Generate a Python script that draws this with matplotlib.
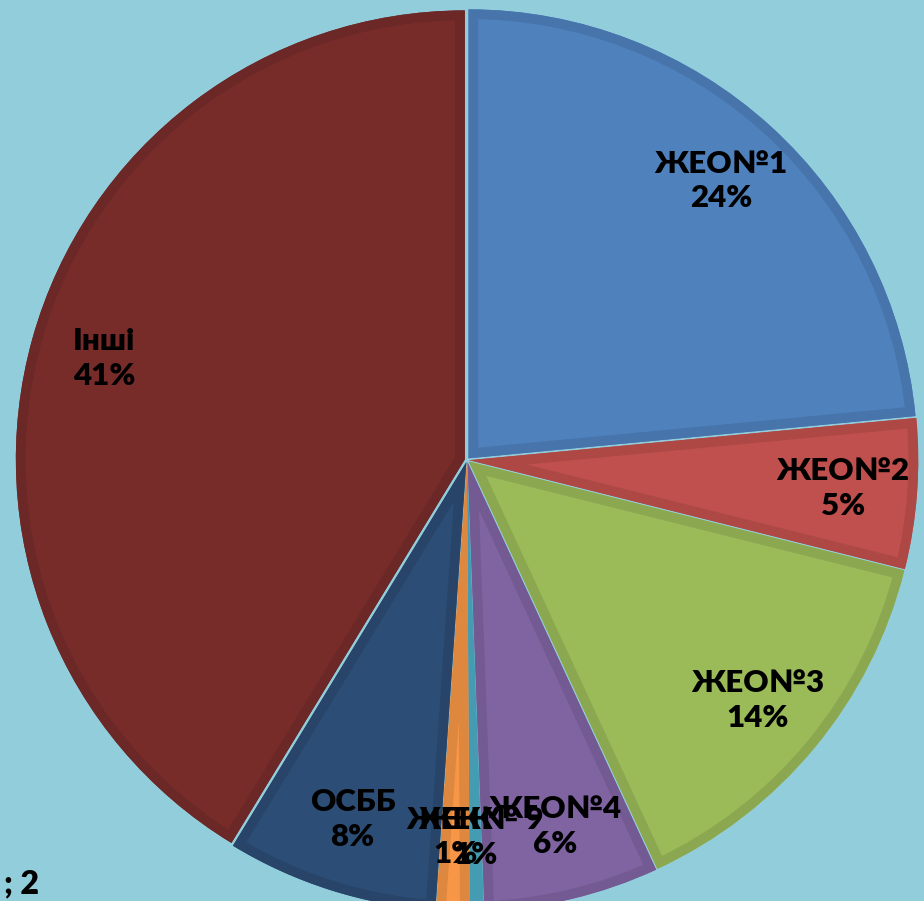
import numpy as np
import matplotlib.pyplot as plt
from matplotlib.colors import to_rgb
from matplotlib.patches import Wedge

plt.rcParams['font.family'] = ['Lato', 'DejaVu Sans']

# Shares of the pie (clockwise from 12 o'clock)
names = ['ЖЕО№1', 'ЖЕО№2', 'ЖЕО№3', 'ЖЕО№4', 'ЖЕК№ 9', 'ЖЕК', 'ОСББ', 'Інші']
values = [23.5, 5.4, 14.2, 6.3, 0.5, 1.2, 7.6, 41.3]
colors = ['#4F81BD', '#C0504D', '#9BBB59', '#8064A2', '#4BACC6', '#F79646',
          '#2C4D75', '#772C2A']
bg = '#92CDDC'

W, H = 924, 901
cx, cy, R = 467, 460, 449

fig = plt.figure(figsize=(W / 100, H / 100), dpi=100, facecolor=bg)
ax = fig.add_axes([0, 0, 1, 1])
ax.set_facecolor(bg)

edges = [tuple(c * 0.9 for c in to_rgb(col)) for col in colors]
wedges, _ = ax.pie(values, colors=colors, startangle=90, counterclock=False,
                   radius=1, explode=[0.005] * len(values),
                   wedgeprops=dict(linewidth=0))
# border drawn only on the inside of each wedge
for w, e in zip(wedges, edges):
    b = Wedge(w.center, w.r, w.theta1, w.theta2, facecolor='none',
              edgecolor=e, linewidth=14, joinstyle='miter')
    ax.add_patch(b)
    b.set_clip_path(w)

ax.set_xlim(-cx / R, (W - cx) / R)
ax.set_ylim(-(H - cy) / R, cy / R)
ax.set_aspect('auto')
ax.axis('off')

total = sum(values)
for w, n, v in zip(wedges, names, values):
    mid = np.deg2rad((w.theta1 + w.theta2) / 2)
    d = 0.84
    pct = int(100 * v / total + 0.5)
    ax.text(d * np.cos(mid), d * np.sin(mid), f'{n}\n{pct}%',
            ha='center', va='center', fontsize=22.5, fontweight='heavy',
            color='black', linespacing=1.3)

fig.text(0.004, 8 / H, '; 2', ha='left', va='baseline', fontsize=23,
         fontweight='heavy', color='black')

fig.savefig('out.png', dpi=100, facecolor=bg)
